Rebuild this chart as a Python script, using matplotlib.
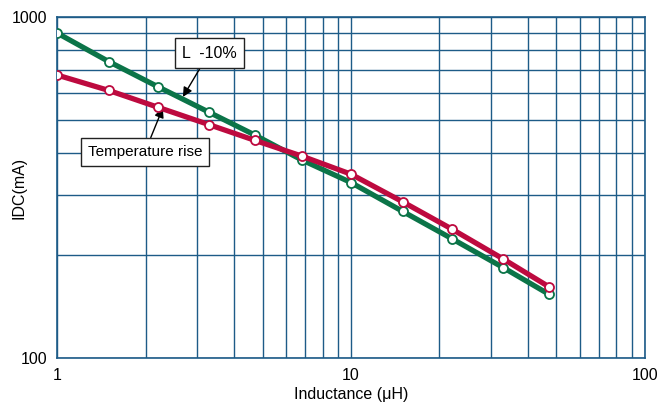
import matplotlib.pyplot as plt
import numpy as np
from matplotlib.ticker import FixedLocator, NullFormatter

plt.rcParams['font.family'] = ['Liberation Sans', 'DejaVu Sans']

inductance = [1.0, 1.5, 2.2, 3.3, 4.7, 6.8, 10, 15, 22, 33, 47]
idc_l10 = [898, 740, 625, 525, 451, 381, 327, 269, 224, 184, 154]
idc_temp = [676, 609, 544, 483, 435, 391, 346, 287, 239, 195, 162]

grid_col = '#1d5b87'
green = '#0b7448'
red = '#bd0a3f'

fig = plt.figure(figsize=(6.57, 4.09), dpi=100)
ax = fig.add_axes([0.0868, 0.1247, 0.8949, 0.8337])
ax.set_xscale('log')
ax.set_yscale('log')
ax.set_xlim(1, 100)
ax.set_ylim(100, 1000)

ax.xaxis.set_major_locator(FixedLocator([1, 10, 100]))
ax.yaxis.set_major_locator(FixedLocator([100, 1000]))
ax.set_xticklabels(['1', '10', '100'])
ax.set_yticklabels(['100', '1000'])
ax.xaxis.set_minor_locator(FixedLocator([d * k for d in (1, 10) for k in range(2, 10)]))
ax.yaxis.set_minor_locator(FixedLocator([100 * k for k in range(2, 10)]))
ax.xaxis.set_minor_formatter(NullFormatter())
ax.yaxis.set_minor_formatter(NullFormatter())
ax.tick_params(which='both', length=0, labelsize=11.5, pad=7)
ax.grid(True, which='both', color=grid_col, lw=1.0)
for s in ax.spines.values():
    s.set_color(grid_col)
    s.set_linewidth(1.2)

ax.plot(inductance, idc_l10, color=green, lw=3.8, marker='o', ms=6.5,
        mfc='white', mec=green, mew=1.3, zorder=3)
ax.plot(inductance, idc_temp, color=red, lw=3.8, marker='o', ms=6.5,
        mfc='white', mec=red, mew=1.3, zorder=4)

ax.annotate('L  -10%', xy=(2.68, 583), xytext=(3.29, 784),
            fontsize=11.5, ha='center', va='center',
            bbox=dict(boxstyle='square,pad=0.45', fc='white', ec='#222222', lw=1),
            arrowprops=dict(arrowstyle='-|>', color='black', lw=1, mutation_scale=14,
                            shrinkA=0, shrinkB=0))
ax.annotate('Temperature rise', xy=(2.29, 541), xytext=(1.99, 402),
            fontsize=11, ha='center', va='center',
            bbox=dict(boxstyle='square,pad=0.45', fc='white', ec='#222222', lw=1),
            arrowprops=dict(arrowstyle='-|>', color='black', lw=1, mutation_scale=14,
                            shrinkA=0, shrinkB=0))

ax.set_xlabel('Inductance (\u03bcH)', fontsize=11.5, labelpad=3)
ax.set_ylabel('IDC(mA)', fontsize=11.5)
ax.yaxis.set_label_coords(-0.052, 0.5)

fig.savefig('out.png', dpi=100)
